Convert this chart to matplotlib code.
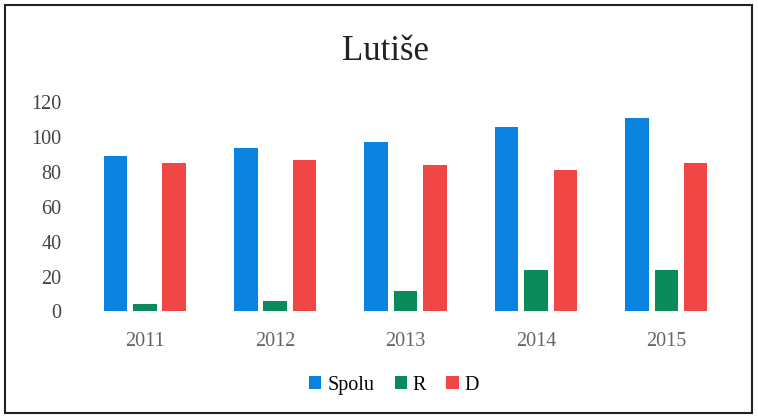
import numpy as np
import matplotlib.pyplot as plt
from matplotlib.patches import Rectangle

years = ["2011", "2012", "2013", "2014", "2015"]
spolu = [89, 94, 97, 106, 111]
r_vals = [4, 6, 12, 24, 24]
d_vals = [85, 87, 84, 81, 85]

plt.rcParams["font.family"] = ["Liberation Serif", "DejaVu Serif"]

fig = plt.figure(figsize=(7.58, 4.18), dpi=100)
ax = fig.add_axes([0.105, 0.255, 0.86, 0.50])

x = np.arange(len(years))
w = 0.18
ax.bar(x - 0.225, spolu, w, color="#0a82e0", label="Spolu")
ax.bar(x, r_vals, w, color="#0b8a5c", label="R")
ax.bar(x + 0.225, d_vals, w, color="#f04646", label="D")

ax.set_xlim(-0.5, len(years) - 0.5)
ax.set_ylim(0, 120)
ax.set_yticks(range(0, 121, 20))
ax.set_xticks(x)
ax.set_xticklabels(years)
ax.tick_params(axis="x", length=0, pad=15, labelsize=14.5, labelcolor="#666666")
ax.tick_params(axis="y", length=0, pad=13, labelsize=14.5, labelcolor="#444444")
for s in ax.spines.values():
    s.set_visible(False)

fig.text(0.509, 0.876, "Lutiše", ha="center", va="center", fontsize=25, color="#222222")
fig.legend(loc="center", bbox_to_anchor=(0.52, 0.078), ncol=3, frameon=False,
           fontsize=14.5, handlelength=0.6, handleheight=0.6, handletextpad=0.3,
           columnspacing=1.0)

fig.patches.append(Rectangle((0.006, 0.012), 0.986, 0.976, transform=fig.transFigure,
                             fill=False, edgecolor="#222222", linewidth=1.5))
fig.savefig("out.png")
